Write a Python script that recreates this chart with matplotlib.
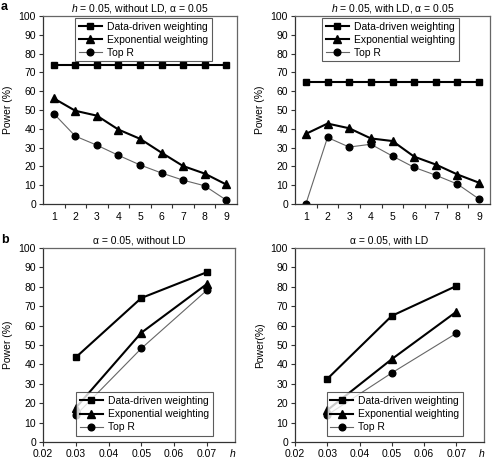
import numpy as np
import matplotlib
matplotlib.use("Agg")
import matplotlib.pyplot as plt

plt.rcParams['font.family'] = ['Liberation Sans', 'DejaVu Sans']
plt.rcParams['mathtext.fontset'] = 'custom'
plt.rcParams['mathtext.it'] = 'Liberation Sans:italic'
plt.rcParams['mathtext.rm'] = 'Liberation Sans'

# =========================
# Data
# =========================
# panel a: x = number of top SNPs (categories 1..9)
cats = [1, 2, 3, 4, 5, 6, 7, 8, 9]

a1_data_driven = [74, 74, 74, 74, 74, 74, 74, 74, 74]
a1_exponential = [56.2, 49.6, 47.0, 39.6, 34.7, 27.3, 20.2, 16.2, 10.4]
a1_top_r = [48.1, 36.1, 31.3, 25.9, 20.8, 16.5, 12.7, 9.7, 2.1]

a2_data_driven = [65, 65, 65, 65, 65, 65, 65, 65, 65]
a2_exponential = [37.3, 42.8, 40.3, 34.9, 33.5, 25.2, 21.0, 15.7, 11.3]
a2_top_r = [0.0, 35.4, 30.3, 31.8, 25.5, 19.5, 15.3, 10.6, 2.6]

# panel b: x = heritability h
h_vals = [0.03, 0.05, 0.07]

b1_data_driven = [43.6, 74.2, 87.5]
b1_exponential = [17.6, 56.3, 81.4]
b1_top_r = [13.8, 48.2, 78.2]

b2_data_driven = [32.5, 65.0, 80.4]
b2_exponential = [16.4, 42.7, 67.1]
b2_top_r = [13.9, 35.6, 56.0]

labels = ["Data-driven weighting", "Exponential weighting", "Top R"]

# =========================
# Styles
# =========================
styles = [
    dict(color="black", lw=1.5, marker="s", ms=4.8),
    dict(color="black", lw=1.5, marker="^", ms=5.2),
    dict(color="#666666", lw=0.8, marker="o", ms=4.8, mfc="black", mec="black"),
]

FS = 7.5


def style_axes(ax):
    for side in ["top", "right"]:
        ax.spines[side].set_color("#666666")
        ax.spines[side].set_linewidth(0.9)
    for side in ["left", "bottom"]:
        ax.spines[side].set_color("#333333")
        ax.spines[side].set_linewidth(0.9)
    ax.set_ylim(0, 100)
    ax.set_yticks(np.arange(0, 101, 10))
    ax.tick_params(axis="both", direction="out", length=3, width=0.8,
                   labelsize=FS, pad=2, color="#333333")


def plot_series(ax, x, series):
    for y, lab, st in zip(series, labels, styles):
        ax.plot(x, y, label=lab, **st)


def add_legend(ax, loc, anchor):
    leg = ax.legend(loc=loc, bbox_to_anchor=anchor,
                    fontsize=FS, frameon=True, fancybox=False, handlelength=2.2,
                    borderpad=0.35, labelspacing=0.3, handletextpad=0.5,
                    borderaxespad=0)
    leg.get_frame().set_edgecolor("#333333")
    leg.get_frame().set_linewidth(0.8)


fig = plt.figure(figsize=(4.93, 4.62), dpi=100)

ax_a1 = fig.add_axes([0.0872, 0.5584, 0.3935, 0.4069])
ax_a2 = fig.add_axes([0.5984, 0.5584, 0.3955, 0.4069])
ax_b1 = fig.add_axes([0.0872, 0.0433, 0.3895, 0.4200])
ax_b2 = fig.add_axes([0.5984, 0.0433, 0.3834, 0.4200])

# =========================
# Panel a
# =========================
for ax, series, title, anchor in [
    (ax_a1, [a1_data_driven, a1_exponential, a1_top_r],
     r"$h$ = 0.05, without LD, α = 0.05", (0.87, 0.99)),
    (ax_a2, [a2_data_driven, a2_exponential, a2_top_r],
     r"$h$ = 0.05, with LD, α = 0.05", (0.84, 0.99)),
]:
    plot_series(ax, cats, series)
    style_axes(ax)
    ax.set_xlim(cats[0] - 0.5, cats[-1] + 0.5)
    # category-style axis: ticks between categories, labels centred
    ax.set_xticks(np.arange(cats[0] + 0.5, cats[-1], 1.0))
    ax.set_xticklabels([])
    ax.set_xticks(cats, minor=True)
    ax.set_xticklabels([str(c) for c in cats], minor=True)
    ax.tick_params(axis="x", which="minor", length=0, labelsize=FS, pad=6)
    ax.set_ylabel("Power (%)", fontsize=FS, labelpad=4)
    ax.set_title(title, fontsize=FS, pad=3)
    add_legend(ax, "upper right", anchor)

# =========================
# Panel b
# =========================
for ax, series, title, ylab, anchor in [
    (ax_b1, [b1_data_driven, b1_exponential, b1_top_r],
     "α = 0.05, without LD", "Power (%)", (0.885, 0.031)),
    (ax_b2, [b2_data_driven, b2_exponential, b2_top_r],
     "α = 0.05, with LD", "Power(%)", (0.889, 0.031)),
]:
    plot_series(ax, h_vals, series)
    style_axes(ax)
    ax.set_xlim(0.02, 0.0786)
    ax.set_xticks(np.arange(0.02, 0.0701, 0.01))
    ax.set_xticklabels(["%.2f" % v for v in np.arange(0.02, 0.0701, 0.01)])
    ax.annotate("h", xy=(1.0, 0), xycoords="axes fraction", xytext=(-2, -5),
                textcoords="offset points", ha="center", va="top",
                fontsize=FS, style="italic")
    ax.set_ylabel(ylab, fontsize=FS, labelpad=4)
    ax.set_title(title, fontsize=FS, pad=3)
    add_legend(ax, "lower right", anchor)

fig.text(0.002, 0.985, "a", fontsize=9, fontweight="bold", va="center")
fig.text(0.002, 0.481, "b", fontsize=9, fontweight="bold", va="center")

fig.savefig("out.png", dpi=100)
